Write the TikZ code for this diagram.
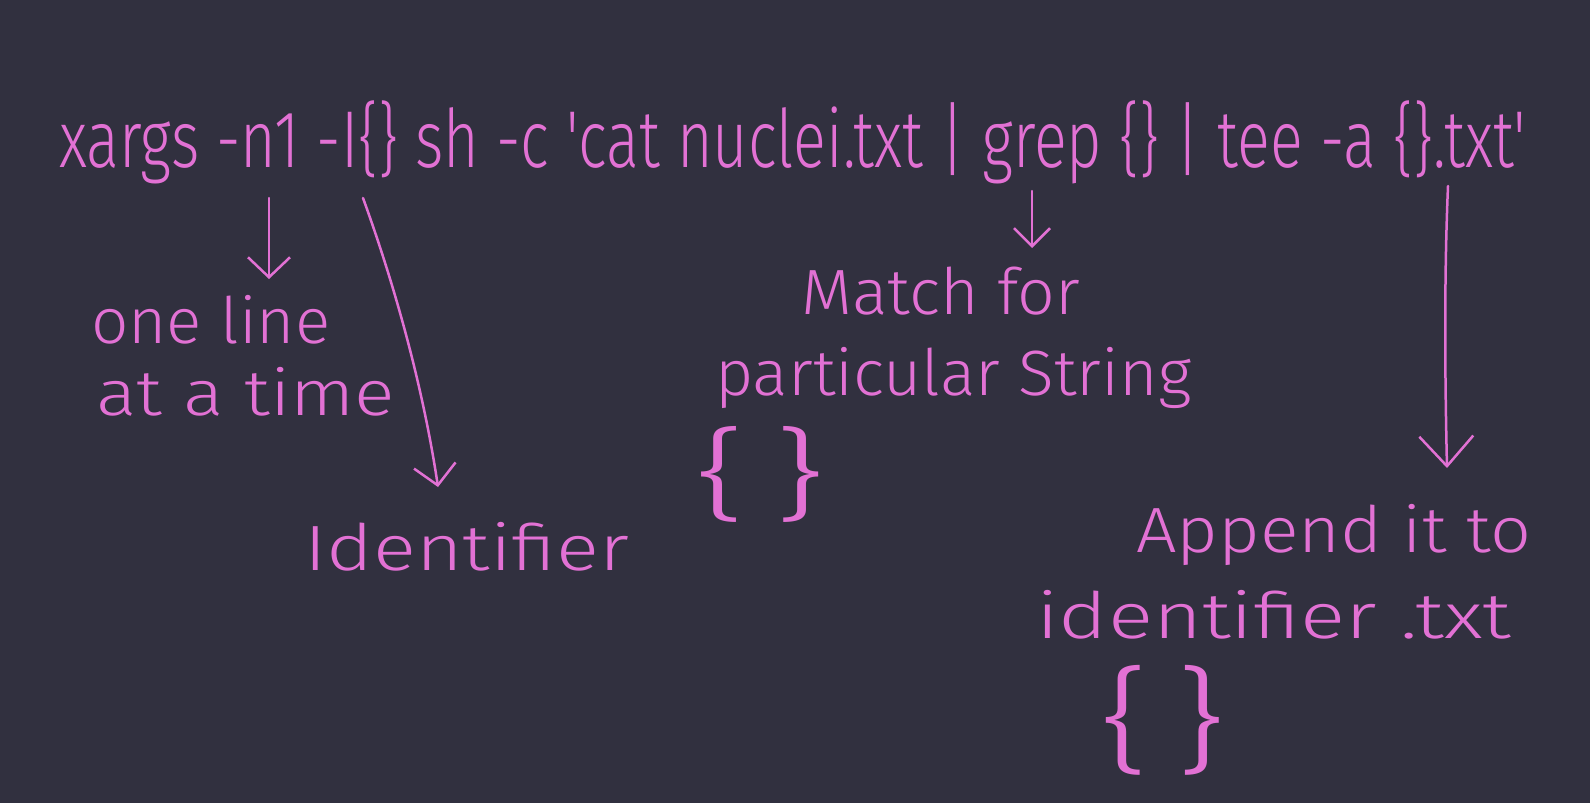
\documentclass[tikz,border=0pt]{standalone}
\usepackage{graphicx}
\usepackage{fontspec}
\setmainfont{Fira Sans}[UprightFont=* Light]
\usetikzlibrary{arrows.meta}
\definecolor{bg}{HTML}{31303F}
\definecolor{pk}{HTML}{E271D4}
\tikzset{
  cmd/.style={inner sep=0pt, anchor=base west, text=pk, font=\fontsize{72}{80}\selectfont},
  note/.style={inner sep=0pt, anchor=base west, text=pk, font=\fontsize{64}{70}\selectfont},
  brace/.style={inner sep=0pt, text=pk, font=\fontsize{80}{90}\selectfont},
  arr/.style={draw=pk, line width=2.5pt, line cap=round, line join=round,
    -{Straight Barb[length=20pt,width=42pt,line width=2.5pt]}},
}
\begin{document}
\begin{tikzpicture}[x=1pt,y=-1pt]
\fill[bg] (0,0) rectangle (1590,803);
\useasboundingbox (0,0) rectangle (1590,803);

\node[cmd] (cmdline) at (59,167) {\resizebox{1467pt}{1.12\height}{xargs -n1 -I\{\} sh -c \textquotesingle cat nuclei.txt | grep \{\} | tee -a \{\}.txt\textquotesingle}};

\node[note] (one) at (91,343) {\resizebox{239pt}{\height}{one line}};
\node[note] (time) at (96,415) {\resizebox{299pt}{\height}{at a time}};
\node[note] (ident) at (304,570) {\resizebox{325pt}{\height}{Identifier}};
\node[note] (match) at (801,314) {\resizebox{279pt}{\height}{Match for}};
\node[note] (partic) at (715,395) {\resizebox{476pt}{\height}{particular String}};
\node[brace] (br1) at (760,474) {\resizebox*{131pt}{96pt}{\{\,\}}};
\node[note] (append) at (1136,552) {\resizebox{395pt}{\height}{Append it to}};
\node[note] (idtxt) at (1036,638) {\resizebox{475pt}{\height}{identifier .txt}};
\node[brace] (br2) at (1163,720) {\resizebox*{127pt}{110pt}{\{\,\}}};

\coordinate (s1) at (269,198); \coordinate (e1) at (269,279);
\coordinate (s2) at (363,198); \coordinate (e2) at (438,487);
\coordinate (s3) at (1032,191); \coordinate (e3) at (1032,248);
\coordinate (s4) at (1448,186); \coordinate (e4) at (1447,468);

\draw[arr] (s1) -- (e1);
\draw[arr] (s2) .. controls (400,300) and (425,400) .. (e2);
\draw[arr, -{Straight Barb[length=18pt,width=36pt,line width=2.5pt]}] (s3) -- (e3);
\draw[arr, -{Straight Barb[length=30pt,width=54pt,line width=2.5pt]}] (s4) .. controls (1444,280) and (1445,380) .. (e4);
\end{tikzpicture}
\end{document}
